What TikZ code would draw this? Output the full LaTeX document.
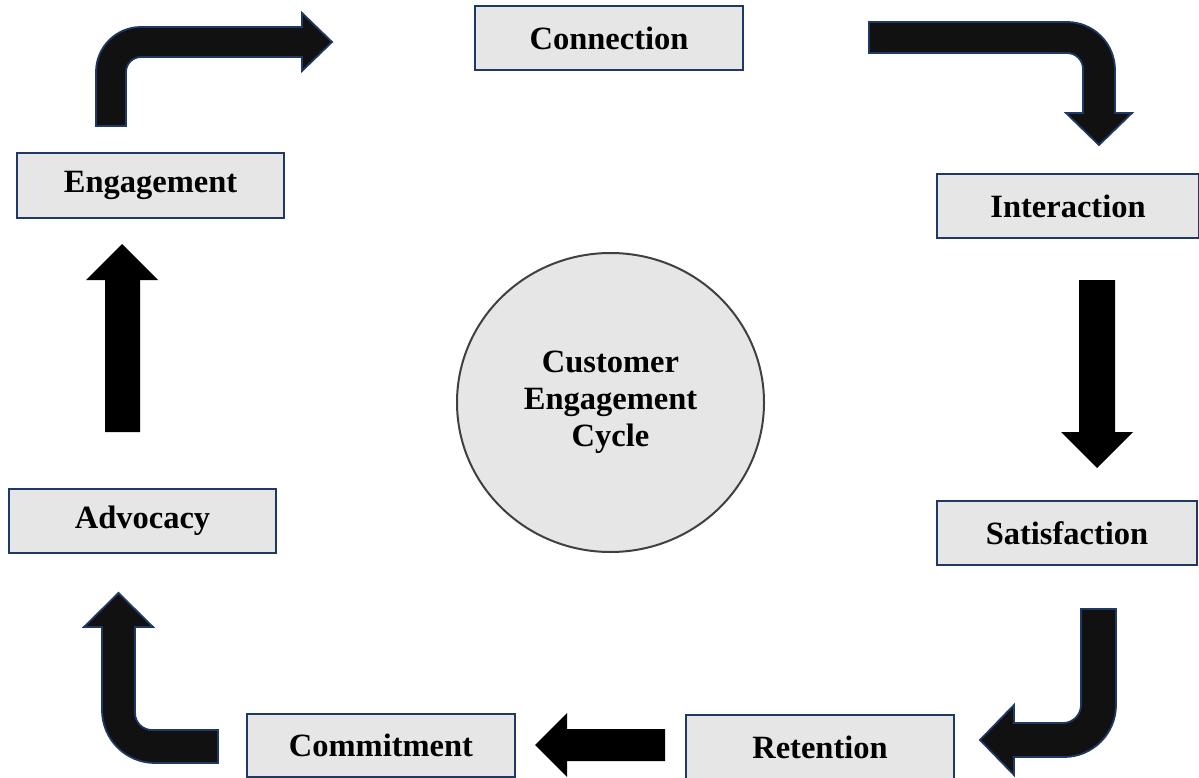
\documentclass[tikz,border=0pt]{standalone}
\usepackage{fontspec}
\setmainfont{Liberation Serif}
\usetikzlibrary{shapes.geometric}

\definecolor{boxfill}{HTML}{E7E6E6}
\definecolor{navy}{HTML}{1F3864}
\definecolor{ringgray}{HTML}{404040}
\definecolor{arrowblack}{HTML}{111111}

\tikzset{
  stage/.style={draw=navy, line width=2.4pt, fill=boxfill, minimum height=64pt,
    font=\fontsize{32.5}{37}\selectfont\bfseries, inner sep=0pt},
  hub/.style={ellipse, draw=ringgray, line width=2pt, fill=boxfill,
    minimum width=307pt, minimum height=299pt, align=center,
    font=\fontsize{32.5}{37}\selectfont\bfseries, inner sep=0pt},
  bentarrow/.style={fill=arrowblack, draw=navy, line width=1.8pt, line join=miter},
  straightarrow/.style={fill=black, draw=none}
}

\begin{document}
\begin{tikzpicture}[x=1pt, y=-1pt]
\useasboundingbox (0,0) rectangle (1199,778);
\fill[white] (0,0) rectangle (1199,778);

% stages of the cycle
\node[stage, minimum width=268pt] (conn) at (609,38) {Connection};
\node[stage, minimum width=262pt] (inter) at (1068,206) {Interaction};
\node[stage, minimum width=260pt] (sat) at (1067,533) {Satisfaction};
\node[stage, minimum width=268pt, minimum height=65pt] (ret) at (820,747.5) {Retention};
\node[stage, minimum width=268pt, minimum height=63pt] (comm) at (381,745.5) {Commitment};
\node[stage, minimum width=267pt] (adv) at (142.5,521) {Advocacy};
\node[stage, minimum width=267pt, minimum height=65pt] (eng) at (150.5,185.5) {Engagement};

% centre hub
\node[hub] (hub) at (610.5,402.5) {Customer\\Engagement\\Cycle};

% Engagement -> Connection (bent up-right)
\draw[bentarrow] (96,126) -- (96,72) .. controls (96,47.1) and (116.1,27) .. (141,27)
  -- (302,27) -- (302,13) -- (332,42) -- (302,71) -- (302,57) -- (141,57)
  .. controls (132.7,57) and (126,63.7) .. (126,72) -- (126,126) -- cycle;

% Connection -> Interaction (bent right-down)
\draw[bentarrow] (869,22) -- (1067,22) .. controls (1093.5,22) and (1115,43.5) .. (1115,70)
  -- (1115,113) -- (1132,113) -- (1099,145) -- (1066,113) -- (1083,113) -- (1083,69)
  .. controls (1083,60.2) and (1075.8,53) .. (1067,53) -- (869,53) -- cycle;

% Interaction -> Satisfaction (straight down)
\fill[straightarrow] (1079,280) -- (1115,280) -- (1115,432) -- (1133,432) -- (1097,468)
  -- (1061,432) -- (1079,432) -- cycle;

% Satisfaction -> Retention (bent down-left)
\draw[bentarrow] (1081,609) -- (1116,609) -- (1116,705) .. controls (1116,733.7) and (1092.7,757) .. (1064,757)
  -- (1014,757) -- (1014,775) -- (980,740) -- (1014,705) -- (1014,723) -- (1063,723)
  .. controls (1072.9,723) and (1081,714.9) .. (1081,705) -- cycle;

% Retention -> Commitment (straight left)
\fill[straightarrow] (665,729) -- (665,761) -- (567,761) -- (567,777) -- (535,745)
  -- (567,713) -- (567,729) -- cycle;

% Commitment -> Advocacy (bent left-up)
\draw[bentarrow] (218,730) -- (218,763) -- (155,763) .. controls (125.7,763) and (102,739.3) .. (102,710)
  -- (102,627) -- (84,627) -- (118.5,593) -- (153,627) -- (135,627) -- (135,713)
  .. controls (135,722.4) and (142.6,730) .. (152,730) -- cycle;

% Advocacy -> Engagement (straight up)
\fill[straightarrow] (105,432) -- (140,432) -- (140,280) -- (158,280) -- (122,244)
  -- (86,280) -- (105,280) -- cycle;
\end{tikzpicture}
\end{document}
